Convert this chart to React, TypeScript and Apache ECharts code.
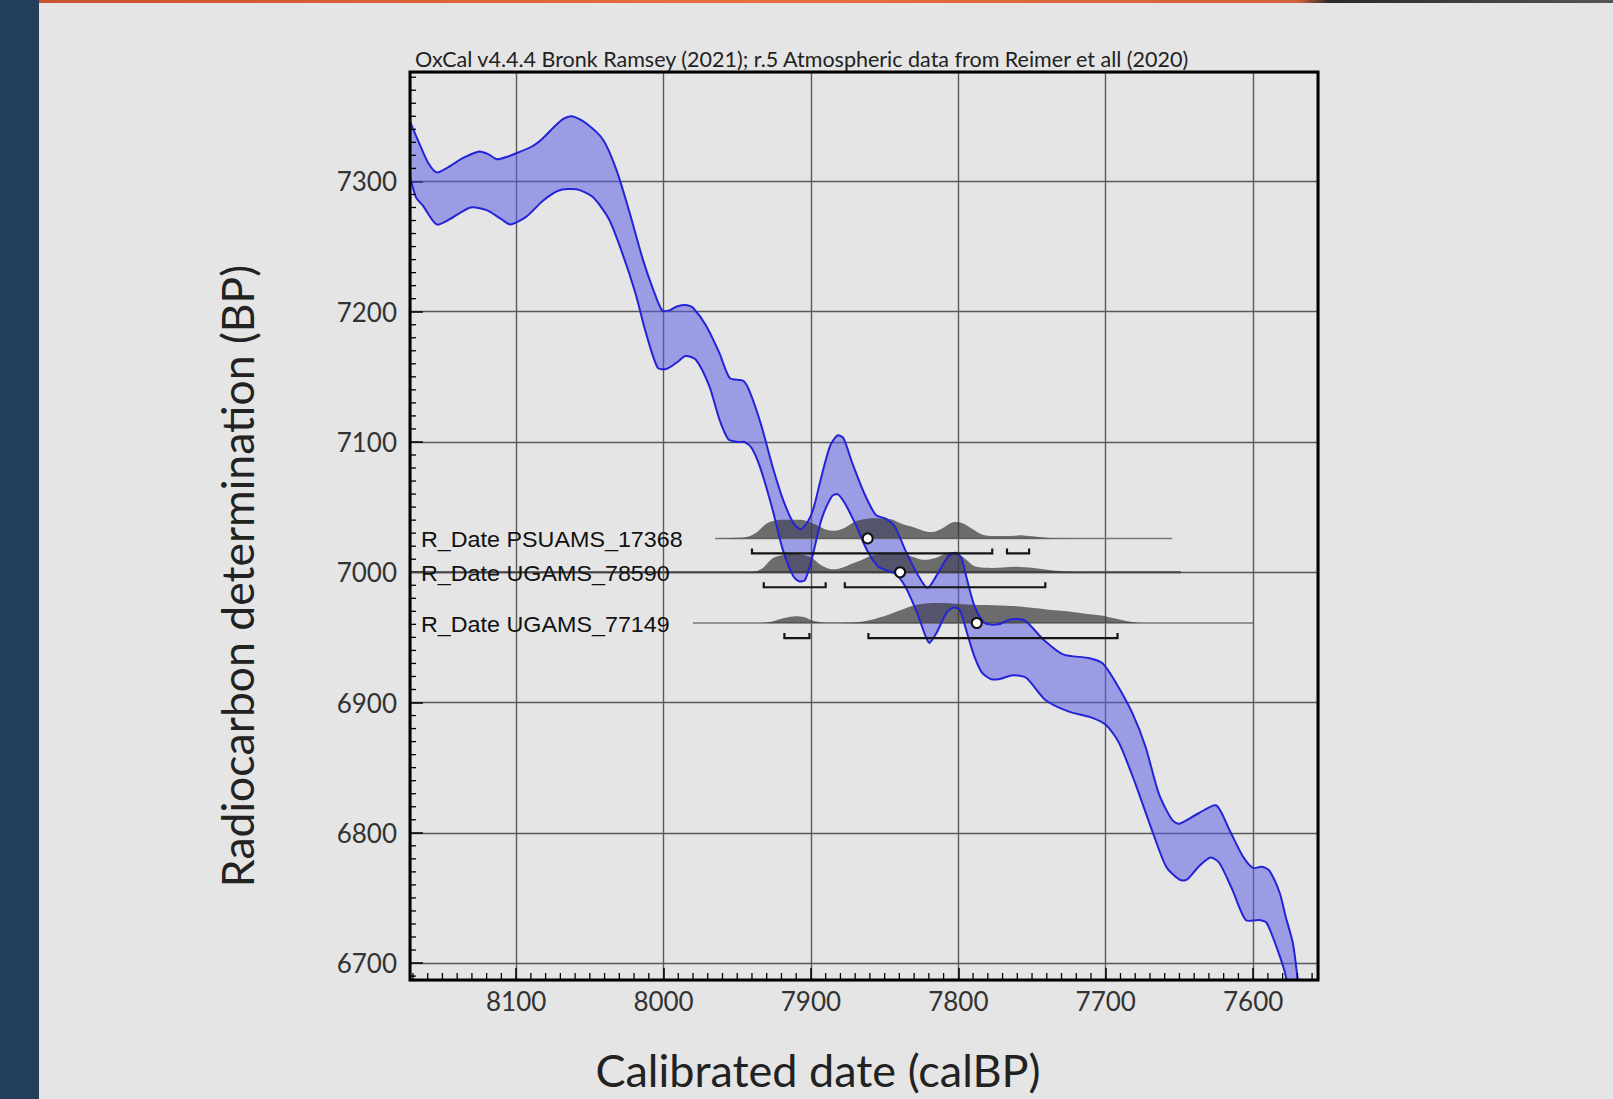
import React, { useEffect, useRef } from "react";
import * as echarts from "echarts";

const TITLE = "OxCal v4.4.4 Bronk Ramsey (2021); r.5 Atmospheric data from Reimer et all (2020)";
const X_NAME = "Calibrated date (calBP)";
const Y_NAME = "Radiocarbon determination (BP)";

const X_MIN = 7556;
const X_MAX = 8172;
const Y_MIN = 6687;
const Y_MAX = 7384;

// calibration curve, upper and lower edges: [calBP, BP]
const CURVE_UPPER: number[][] = [
  [8172, 7346], [8166, 7330], [8160, 7315], [8154, 7307], [8146, 7311], [8136, 7318],
  [8125, 7323], [8119, 7321], [8113, 7317], [8106, 7319], [8099, 7322], [8089, 7327],
  [8082, 7333], [8075, 7341], [8068, 7348], [8062, 7350], [8053, 7345], [8041, 7332],
  [8032, 7309], [8023, 7276], [8014, 7240], [8007, 7217], [8001, 7201], [7996, 7201],
  [7991, 7204], [7984, 7205], [7980, 7203], [7971, 7189], [7962, 7168], [7955, 7149],
  [7946, 7147], [7942, 7140], [7934, 7114], [7926, 7081], [7919, 7056], [7912, 7038],
  [7907, 7033], [7902, 7039], [7898, 7050], [7893, 7073], [7887, 7097], [7882, 7105],
  [7878, 7103], [7872, 7084], [7864, 7061], [7856, 7044], [7849, 7041], [7843, 7035],
  [7836, 7017], [7828, 6999], [7821, 6988], [7815, 6997], [7807, 7012], [7802, 7015],
  [7798, 7011], [7794, 6994], [7789, 6974], [7782, 6961], [7773, 6960], [7764, 6964],
  [7755, 6963], [7742, 6948], [7729, 6937], [7711, 6934], [7702, 6930], [7693, 6915],
  [7682, 6892], [7673, 6866], [7664, 6830], [7655, 6810], [7650, 6807], [7637, 6815],
  [7625, 6821], [7616, 6802], [7607, 6782], [7600, 6773], [7594, 6774], [7589, 6771],
  [7582, 6754], [7578, 6736], [7573, 6715], [7570, 6690], [7568, 6675],
];
const CURVE_LOWER: number[][] = [
  [8172, 7304], [8168, 7288], [8163, 7281], [8154, 7267], [8145, 7271], [8131, 7280],
  [8120, 7278], [8110, 7271], [8104, 7267], [8093, 7273], [8082, 7285], [8071, 7293],
  [8059, 7294], [8048, 7288], [8037, 7271], [8028, 7245], [8019, 7214], [8012, 7184],
  [8004, 7157], [7998, 7156], [7991, 7161], [7985, 7166], [7978, 7163], [7969, 7143],
  [7962, 7117], [7956, 7102], [7950, 7100], [7945, 7100], [7940, 7095], [7934, 7079],
  [7926, 7048], [7919, 7017], [7912, 6997], [7908, 6993], [7904, 6994], [7899, 7012],
  [7893, 7040], [7886, 7058], [7882, 7060], [7877, 7053], [7869, 7035], [7862, 7017],
  [7854, 7004], [7843, 6999], [7836, 6989], [7828, 6969], [7820, 6946], [7815, 6953],
  [7808, 6969], [7803, 6973], [7799, 6971], [7794, 6953], [7789, 6935], [7784, 6923],
  [7778, 6918], [7772, 6918], [7763, 6921], [7754, 6919], [7741, 6902], [7725, 6893],
  [7711, 6889], [7700, 6883], [7691, 6869], [7680, 6838], [7668, 6800], [7659, 6774],
  [7650, 6764], [7645, 6764], [7637, 6774], [7629, 6781], [7623, 6777], [7614, 6756],
  [7605, 6733], [7596, 6733], [7591, 6731], [7585, 6715], [7579, 6695], [7576, 6680],
];

// R_Date samples
const SAMPLE_NAMES = ["PSUAMS_17368", "UGAMS_78590", "UGAMS_77149"];
const SAMPLE_BP = [7026, 7000, 6961];
const SAMPLE_MEANS = [7861.5, 7839.5, 7787.5];
const SAMPLE_LINE_FROM = [7965, 8172, 7980];
const SAMPLE_LINE_TO = [7655, 7649, 7600];
// 95.4% ranges
const RANGES_PSUAMS_17368 = [[7940, 7777], [7767, 7752]];
const RANGES_UGAMS_78590 = [[7932, 7890], [7877, 7741]];
const RANGES_UGAMS_77149 = [[7918, 7901], [7861, 7692]];
// relative probability [calBP, density]
const PROB_PSUAMS_17368 = [
  [7962, 0], [7950, 0.03], [7942, 0.1], [7936, 0.35], [7930, 0.75], [7924, 0.9],
  [7914, 0.93], [7904, 0.9], [7897, 0.7], [7890, 0.45], [7884, 0.38], [7878, 0.5],
  [7870, 0.85], [7862, 0.98], [7852, 1.0], [7845, 0.95], [7838, 0.72], [7830, 0.55],
  [7822, 0.35], [7817, 0.32], [7811, 0.5], [7804, 0.8], [7798, 0.78], [7791, 0.5],
  [7784, 0.2], [7776, 0.12], [7766, 0.12], [7756, 0.15], [7748, 0.1], [7738, 0.02], [7725, 0],
];
const PROB_UGAMS_78590 = [
  [7945, 0], [7937, 0.05], [7932, 0.25], [7926, 0.7], [7918, 0.88], [7908, 0.9],
  [7900, 0.75], [7893, 0.35], [7886, 0.15], [7880, 0.2], [7873, 0.4], [7866, 0.6],
  [7858, 0.85], [7848, 0.95], [7838, 0.93], [7830, 0.75], [7824, 0.62], [7816, 0.7],
  [7808, 0.95], [7802, 1.0], [7795, 0.65], [7789, 0.3], [7780, 0.22], [7770, 0.24],
  [7760, 0.28], [7750, 0.22], [7740, 0.12], [7728, 0.04], [7715, 0],
];
const PROB_UGAMS_77149 = [
  [7935, 0], [7928, 0.05], [7920, 0.22], [7912, 0.33], [7905, 0.3], [7898, 0.1],
  [7890, 0.02], [7878, 0.02], [7868, 0.05], [7858, 0.18], [7848, 0.4], [7838, 0.68],
  [7830, 0.88], [7822, 0.98], [7812, 1.0], [7802, 0.96], [7792, 0.92], [7782, 0.9],
  [7772, 0.88], [7762, 0.85], [7750, 0.76], [7740, 0.68], [7728, 0.6], [7715, 0.48],
  [7703, 0.38], [7695, 0.25], [7686, 0.1], [7678, 0.02], [7670, 0],
];
const SAMPLE_PROBS = [PROB_PSUAMS_17368, PROB_UGAMS_78590, PROB_UGAMS_77149];
const SAMPLE_RANGES = [RANGES_PSUAMS_17368, RANGES_UGAMS_78590, RANGES_UGAMS_77149];

// minor ticks every 10 years / 10 BP
const X_MINOR_TICKS: number[] = [];
for (let v = 7560; v <= 8170; v += 10) if (v % 100 !== 0) X_MINOR_TICKS.push(v);
const Y_MINOR_TICKS: number[] = [];
for (let v = 6690; v <= 7380; v += 10) if (v % 100 !== 0) Y_MINOR_TICKS.push(v);

const FONT = "Lato, 'Noto Sans', sans-serif";
const DIST_PX = 20;

export default function App() {
  const ref = useRef<HTMLDivElement>(null);
  useEffect(() => {
    if (!ref.current) return;
    const chart = echarts.init(ref.current, null, { renderer: "svg" });
    const GL = 410, GT = 72, GW = 908, GH = 908;
    const option: any = {
      animation: false,
      backgroundColor: "#e5e5e5",
      title: {
        text: TITLE,
        left: 410,
        top: 43,
        textStyle: { fontSize: 21.5, fontWeight: "normal", color: "#222", fontFamily: FONT },
      },
      grid: { left: GL, top: GT, width: GW, height: GH, show: false },
      xAxis: {
        type: "value",
        inverse: true,
        min: X_MIN,
        max: X_MAX,
        splitNumber: 6,
        axisLine: { show: false },
        axisTick: { show: true, inside: true, length: 12, lineStyle: { color: "#000", width: 1.5 } },
        axisLabel: {
          fontSize: 26, color: "#333", fontFamily: FONT, margin: 8,
          showMinLabel: false, showMaxLabel: false,
          formatter: (v: number) => String(Math.round(v)),
        },
        splitLine: { show: true, lineStyle: { color: "#5a5a5a", width: 1.4 } },
      },
      yAxis: {
        type: "value",
        min: Y_MIN,
        max: Y_MAX,
        splitNumber: 6,
        axisLine: { show: false },
        axisTick: { show: true, inside: true, length: 13, lineStyle: { color: "#000", width: 1.5 } },
        axisLabel: {
          fontSize: 26, color: "#333", fontFamily: FONT, margin: 13,
          showMinLabel: false, showMaxLabel: false,
          formatter: (v: number) => String(Math.round(v)),
        },
        splitLine: { show: true, lineStyle: { color: "#5a5a5a", width: 1.4 } },
      },
      graphic: [
        { type: "rect", left: 0, top: 0, shape: { width: 39, height: 1099 }, style: { fill: "#243f5c" }, z: 10 },
        {
          type: "rect", left: 39, top: 0, shape: { width: 1574, height: 3 },
          style: {
            fill: new echarts.graphic.LinearGradient(0, 0, 1, 0, [
              { offset: 0, color: "#c9522f" },
              { offset: 0.45, color: "#e8703f" },
              { offset: 0.8, color: "#d2603a" },
              { offset: 0.82, color: "#2a2a2a" },
              { offset: 1, color: "#555" },
            ]),
          },
          z: 10,
        },
        {
          type: "rect", x: GL, y: GT, shape: { width: GW, height: GH },
          style: { fill: "none", stroke: "#000", lineWidth: 3 }, z: 100,
        },
        {
          type: "text", x: 818, y: 1070, z: 10,
          style: { text: X_NAME, fill: "#222", font: `45px ${FONT}`, textAlign: "center", textVerticalAlign: "middle" },
        },
        {
          type: "text", x: 236, y: 576, rotation: Math.PI / 2, z: 10,
          style: { text: Y_NAME, fill: "#222", font: `44.5px ${FONT}`, textAlign: "center", textVerticalAlign: "middle" },
        },
      ],
      series: [
        {
          type: "custom",
          name: "curve fill",
          clip: true,
          z: 2,
          data: [[X_MIN, Y_MIN]],
          renderItem: (_p: any, api: any) => {
            const up = CURVE_UPPER.map((d) => api.coord(d));
            const lo = CURVE_LOWER.map((d) => api.coord(d)).reverse();
            return {
              type: "polygon",
              shape: { points: up.concat(lo), smooth: 0.25 },
              style: { fill: "rgba(88,88,228,0.52)", stroke: "none" },
            };
          },
        },
        {
          type: "custom",
          name: "distributions",
          clip: true,
          z: 3,
          data: SAMPLE_MEANS.map((m, i) => [m, SAMPLE_BP[i]]),
          renderItem: (params: any, api: any) => {
            const i = params.dataIndex;
            const base = SAMPLE_BP[i];
            const pts = SAMPLE_PROBS[i].map(([x, h]) => {
              const c = api.coord([x, base]);
              return [c[0], c[1] - h * DIST_PX];
            });
            const b0 = api.coord([SAMPLE_LINE_FROM[i], base]);
            const b1 = api.coord([SAMPLE_LINE_TO[i], base]);
            return {
              type: "group",
              children: [
                {
                  type: "line",
                  shape: { x1: b0[0], y1: b0[1], x2: b1[0], y2: b1[1] },
                  style: { stroke: i === 1 ? "#444" : "#777", lineWidth: i === 1 ? 2 : 1.5, fill: "none" },
                },
                {
                  type: "polygon",
                  shape: { points: pts, smooth: 0.3 },
                  style: { fill: "rgba(50,50,50,0.68)", stroke: "none" },
                },
              ],
            };
          },
        },
        {
          type: "custom",
          name: "curve edges",
          clip: true,
          z: 4,
          data: [[X_MIN, Y_MIN]],
          renderItem: (_p: any, api: any) => {
            const up = CURVE_UPPER.map((d) => api.coord(d));
            const lo = CURVE_LOWER.map((d) => api.coord(d));
            const st = { stroke: "#2323d8", lineWidth: 2, fill: "none" };
            return {
              type: "group",
              children: [
                { type: "polyline", shape: { points: up, smooth: 0.25 }, style: st },
                { type: "polyline", shape: { points: lo, smooth: 0.25 }, style: st },
              ],
            };
          },
        },
        {
          type: "custom",
          name: "ranges",
          clip: false,
          z: 5,
          data: SAMPLE_MEANS.map((m, i) => [m, SAMPLE_BP[i]]),
          renderItem: (params: any, api: any) => {
            const i = params.dataIndex;
            const base = SAMPLE_BP[i];
            const children: any[] = [];
            SAMPLE_RANGES[i].forEach(([a, b]) => {
              const pa = api.coord([a, base]);
              const pb = api.coord([b, base]);
              const y = pa[1] + 15;
              children.push({
                type: "polyline",
                shape: { points: [[pa[0], y - 5], [pa[0], y], [pb[0], y], [pb[0], y - 5]] },
                style: { stroke: "#151515", lineWidth: 2.2, fill: "none" },
              });
            });
            const l = api.coord([X_MAX, base]);
            children.push({
              type: "text",
              x: l[0] + 11,
              y: l[1] + 1,
              scaleX: 1.06,
              style: {
                text: "R_Date " + SAMPLE_NAMES[i],
                fill: "#111",
                font: "22px 'Liberation Sans', Arial, sans-serif",
                textAlign: "left",
                textVerticalAlign: "middle",
              },
            });
            const m = api.coord([SAMPLE_MEANS[i], base]);
            children.push({
              type: "circle",
              shape: { cx: m[0], cy: m[1], r: 5 },
              style: { fill: "#fff", stroke: "#111", lineWidth: 2 },
            });
            return { type: "group", children };
          },
        },
        {
          type: "custom",
          name: "x minor ticks",
          z: 6,
          data: X_MINOR_TICKS.map((v) => [v, Y_MIN]),
          renderItem: (_p: any, api: any) => {
            const p = api.coord([api.value(0), Y_MIN]);
            return {
              type: "line",
              shape: { x1: p[0], y1: p[1], x2: p[0], y2: p[1] - 7 },
              style: { stroke: "#000", lineWidth: 1.3, fill: "none" },
            };
          },
        },
        {
          type: "custom",
          name: "y minor ticks",
          z: 6,
          data: Y_MINOR_TICKS.map((v) => [X_MAX, v]),
          renderItem: (_p: any, api: any) => {
            const p = api.coord([X_MAX, api.value(1)]);
            return {
              type: "line",
              shape: { x1: p[0], y1: p[1], x2: p[0] + 6, y2: p[1] },
              style: { stroke: "#000", lineWidth: 1.3, fill: "none" },
            };
          },
        },
      ],
    };
    chart.setOption(option);
    return () => chart.dispose();
  }, []);
  return (
    <div
      ref={ref}
      style={{ position: "fixed", left: 0, top: 0, width: 1613, height: 1099, background: "#e5e5e5" }}
    />
  );
}
